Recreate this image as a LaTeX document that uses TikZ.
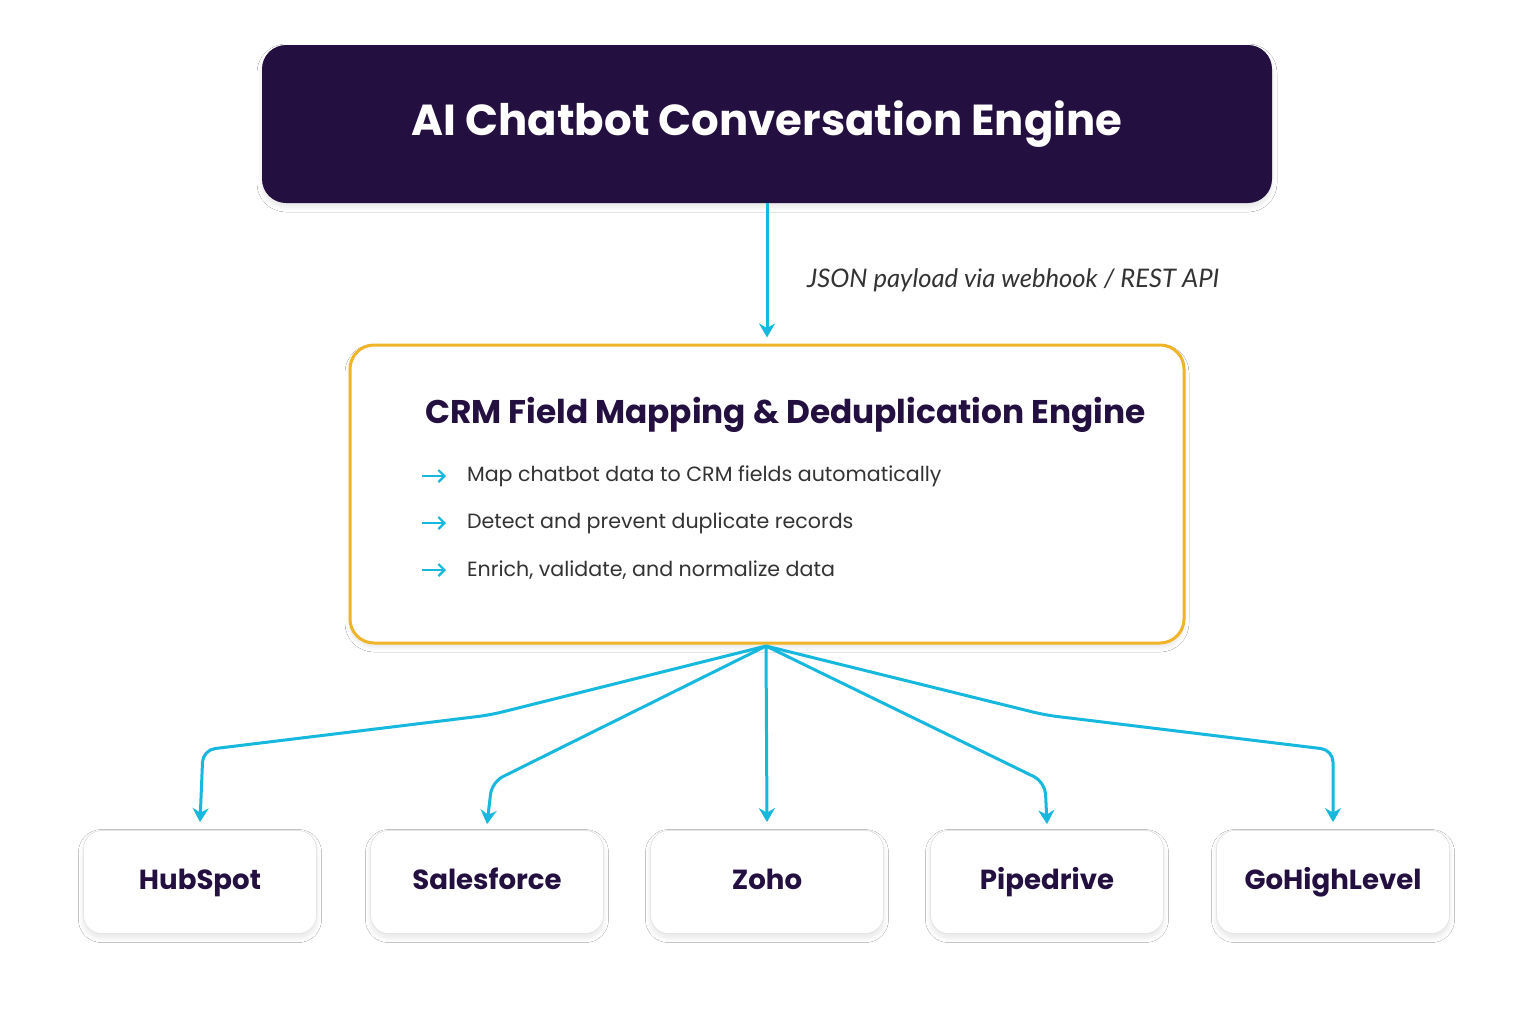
\documentclass[tikz,border=0pt]{standalone}
\usepackage{fontspec}
\setmainfont{Poppins}
\newfontfamily\lab{Lato}
\usetikzlibrary{shadows.blur,arrows.meta}
\definecolor{dpurple}{HTML}{231040}
\definecolor{gold}{HTML}{F0B429}
\definecolor{cyanx}{HTML}{16B8DE}
\definecolor{txt}{HTML}{333333}
\begin{document}
\begin{tikzpicture}[x=0.5pt,y=-0.5pt,
  soft/.style={blur shadow={shadow blur steps=6,shadow xshift=0pt,shadow yshift=-2pt,shadow opacity=10,shadow blur radius=2.5pt}},
  conn/.style={draw=cyanx,line width=1.5pt,rounded corners=6pt,-{Stealth[length=7pt,width=8pt]}},
  crm/.style={draw=black!10,fill=white,rounded corners=9pt,minimum width=116.5pt,minimum height=51.5pt,soft,
    font=\fontsize{13.8}{16}\selectfont\bfseries,text=dpurple,text height=10pt,text depth=3pt},
  bul/.style={anchor=west,font=\fontsize{10.3}{13}\selectfont,text=txt}]
\useasboundingbox[fill=white] (0,0) rectangle (1536,1024);
\node[fill=dpurple,rounded corners=12pt,minimum width=505pt,minimum height=79pt,soft,
  text=white,font=\fontsize{21.7}{26}\selectfont\bfseries] (top) at (767,124) {AI Chatbot Conversation Engine};
\node[draw=gold,line width=1.5pt,fill=white,rounded corners=12pt,minimum width=417pt,minimum height=149pt,soft] (mid) at (767,494) {};
\node[anchor=west,text=dpurple,font=\fontsize{16.4}{20}\selectfont\bfseries] (title) at (418,415) {CRM Field Mapping \& Deduplication Engine};
\foreach \y/\t [count=\i] in {476/Map chatbot data to CRM fields automatically,523/Detect and prevent duplicate records,570/{Enrich, validate, and normalize data}}{
  \coordinate (a\i) at (422,\y); \coordinate (b\i) at (446,\y);
  \draw[cyanx,line width=1.1pt,-{Straight Barb[length=3pt]}] (a\i) -- (b\i);
  \node[bul] (t\i) at (460,\y) {\t};
}
\draw[conn] (top.south) -- ([yshift=3pt]mid.north);
\node[anchor=west,text=txt,font=\lab\itshape\fontsize{12.8}{15}\selectfont] (lbl) at (800,280) {JSON payload via webhook / REST API};
\node[crm] (h) at (200,882) {HubSpot};
\node[crm] (s) at (487,882) {Salesforce};
\node[crm] (z) at (767,882) {Zoho};
\node[crm] (p) at (1047,882) {Pipedrive};
\node[crm] (g) at (1333,882) {GoHighLevel};
\coordinate (o) at (766,646);
\draw[conn] (o) -- (490,715) -- (203,750) -- ([yshift=4pt]h.north);
\draw[conn] (o) -- (492,782) -- ([yshift=3pt]s.north);
\draw[conn] (o) -- ([yshift=4pt]z.north);
\draw[conn] (o) -- (1045,782) -- ([yshift=3pt]p.north);
\draw[conn] (o) -- (1045,715) -- (1333,750) -- ([yshift=4pt]g.north);
\end{tikzpicture}
\end{document}
